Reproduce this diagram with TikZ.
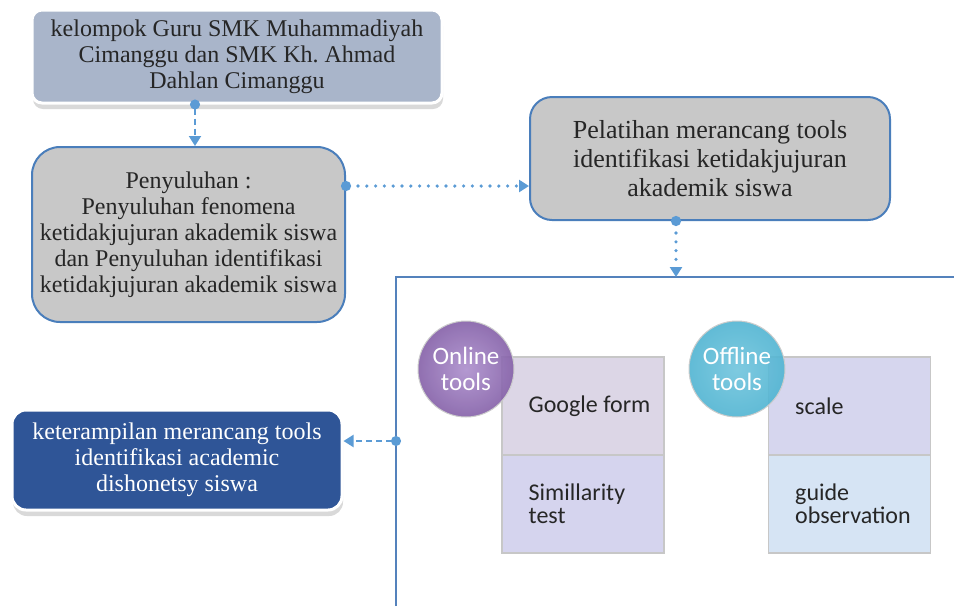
\documentclass[tikz,border=0pt]{standalone}
\usepackage{fontspec}
\setmainfont{Liberation Serif}
\newfontfamily\calibrifont{Carlito}
\usetikzlibrary{positioning, arrows.meta, shadows}

\definecolor{boxgray}{RGB}{200,200,200}
\definecolor{boxsteel}{RGB}{169,181,202}
\definecolor{boxnavy}{RGB}{47,85,151}
\definecolor{edgeblue}{RGB}{74,126,187}
\definecolor{linkblue}{RGB}{91,155,213}
\definecolor{frameblue}{RGB}{84,130,188}
\definecolor{gformcol}{RGB}{220,214,230}
\definecolor{simcol}{RGB}{213,212,238}
\definecolor{scalecol}{RGB}{214,214,238}
\definecolor{guidecol}{RGB}{214,228,244}
\definecolor{onlinein}{RGB}{172,142,204}
\definecolor{onlineout}{RGB}{132,96,168}
\definecolor{offlinein}{RGB}{112,196,220}
\definecolor{offlineout}{RGB}{80,180,210}

\tikzset{
    box/.style={rectangle, align=center, text=black!85, font=\fontsize{12}{13}\selectfont},
    graybox/.style={box, fill=boxgray, draw=edgeblue, line width=1pt},
    shadowbox/.style={box, draw=white, line width=1.5pt,
        drop shadow={shadow xshift=0.5pt, shadow yshift=-3pt, opacity=0.3}},
    dashlink/.style={draw=linkblue, line width=1pt, dash pattern=on 3pt off 2pt, shorten <=-2.5pt,
        arrows={Circle[length=5pt]-Triangle[length=5pt,width=6pt]}},
    dotlink/.style={draw=linkblue, line width=1.8pt, line cap=round, dash pattern=on 0pt off 4.4pt, shorten <=-2.5pt,
        arrows={Circle[length=5pt]-Triangle[length=5pt,width=6pt]}},
    toolbox/.style={rectangle, minimum width=81pt, minimum height=49pt, draw=black!22, line width=0.7pt},
    tooltext/.style={anchor=west, align=left, inner sep=0pt, text=black!85, font=\calibrifont\fontsize{12}{11.5}\selectfont},
    toolball/.style={circle, minimum size=48pt, inner sep=0pt, align=center, shading=radial,
        fill opacity=0.9, text opacity=1, text=white, draw=white!60!gray, line width=0.5pt,
        font=\calibrifont\fontsize{12.5}{13}\selectfont}
}

\begin{document}
\frenchspacing
\begin{tikzpicture}[x=0.5pt, y=-0.5pt]
    \useasboundingbox (0,0) rectangle (954,606);

    \node[shadowbox, fill=boxsteel, minimum width=205pt, minimum height=46.5pt, rounded corners=5pt] (group) at (237,56.5)
        {kelompok Guru SMK Muhammadiyah\\ Cimanggu dan SMK Kh. Ahmad\\ Dahlan Cimanggu};
    \node[graybox, minimum width=156.5pt, minimum height=87.5pt, rounded corners=14pt] (penyuluhan) at (188.5,234.5)
        {Penyuluhan :\\ Penyuluhan fenomena\\ ketidakjujuran akademik siswa\\ dan Penyuluhan identifikasi\\ ketidakjujuran akademik siswa};
    \node[graybox, minimum width=180pt, minimum height=61.5pt, rounded corners=11pt, font=\fontsize{13}{14.5}\selectfont] (pelatihan) at (710,158.5)
        {Pelatihan merancang tools\\ identifikasi ketidakjujuran\\ akademik siswa};
    \node[shadowbox, fill=boxnavy, text=white, minimum width=165pt, minimum height=50pt, rounded corners=7pt] (skill) at (177,460)
        {keterampilan merancang tools\\ identifikasi academic\\ dishonetsy siswa};

    \coordinate (frametop) at (396,277);
    \coordinate (framejoint) at (396,441);
    \draw[frameblue, line width=1pt] (396,606) -- (frametop) -- (954,277);

    \node[toolbox, fill=gformcol] (gform) at (583,406) {};
    \node[toolbox, fill=simcol] (simtest) at (583,504) {};
    \node[toolbox, fill=scalecol] (scale) at (849.5,406) {};
    \node[toolbox, fill=guidecol] (guide) at (849.5,504) {};
    \node[tooltext] (gformtxt) at ([xshift=13.5pt]gform.west) {Google form};
    \node[tooltext] (simtxt) at ([xshift=13.5pt]simtest.west) {Simillarity\\ test};
    \node[tooltext] (scaletxt) at ([xshift=13.5pt]scale.west) {scale};
    \node[tooltext] (guidetxt) at ([xshift=13.5pt]guide.west) {guide\\ observation};

    \node[toolball, inner color=onlinein, outer color=onlineout] (online) at (466,369) {Online\\ tools};
    \node[toolball, inner color=offlinein, outer color=offlineout] (offline) at (737,369) {Offline\\ tools};

    \draw[dashlink] ([xshift=-21pt]group.south) -- ([xshift=-21pt]group.south |- penyuluhan.north);
    \draw[dotlink] ([yshift=-20pt]penyuluhan.north east) -- ([yshift=-20pt]penyuluhan.north east -| pelatihan.west);
    \draw[dotlink] ([xshift=-17pt]pelatihan.south) -- ([xshift=-17pt]pelatihan.south |- frametop);
    \draw[dashlink] (framejoint) -- (framejoint -| skill.east);
\end{tikzpicture}
\end{document}
